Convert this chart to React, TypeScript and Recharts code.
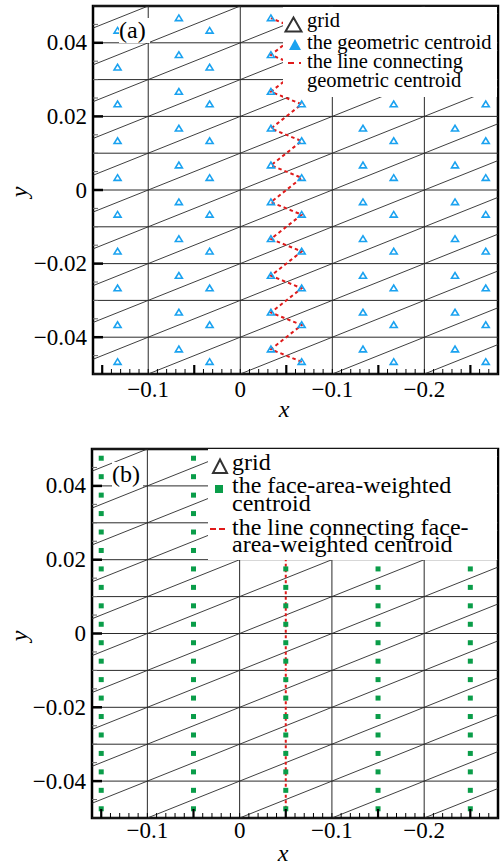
import React from "react";
import {
  ScatterChart, Scatter, XAxis, YAxis,
  ReferenceLine, ReferenceArea, Legend,
} from "recharts";

// ─── Palette / fonts ─────────────────────────────────────────────────────────

const FONT = "'Liberation Serif', 'Times New Roman', serif";
const BLUE = "#1aa2f0";
const GREEN = "#0a9d49";
const RED = "#e01a1a";
const MESH = "#2a2a2a";

// ─── Mesh nodes (both panels) ────────────────────────────────────────────────

const MESH_X = [-0.2, -0.1, 0, 0.1, 0.2, 0.3];
const MESH_Y = [-0.05, -0.04, -0.03, -0.02, -0.01, 0, 0.01, 0.02, 0.03, 0.04, 0.05];

const X_DOMAIN = [-0.16, 0.28];
const Y_DOMAIN = [-0.05, 0.05];

// ─── Axis ticks ──────────────────────────────────────────────────────────────

const X_TICKS = [
  -0.15, -0.14, -0.13, -0.12, -0.11, -0.1, -0.09, -0.08, -0.07, -0.06,
  -0.05, -0.04, -0.03, -0.02, -0.01, 0, 0.01, 0.02, 0.03, 0.04,
  0.05, 0.06, 0.07, 0.08, 0.09, 0.1, 0.11, 0.12, 0.13, 0.14,
  0.15, 0.16, 0.17, 0.18, 0.19, 0.2, 0.21, 0.22, 0.23, 0.24,
  0.25, 0.26, 0.27,
];
const X_MAJOR = [-0.15, -0.05, 0.05, 0.15, 0.25];
const X_LABEL_AT = [-0.1, 0, 0.1, 0.2];
const X_LABEL_TEXT = ["−0.1", "0", "−0.1", "−0.2"];

const Y_TICKS = [
  -0.045, -0.04, -0.035, -0.03, -0.025, -0.02, -0.015, -0.01, -0.005, 0,
  0.005, 0.01, 0.015, 0.02, 0.025, 0.03, 0.035, 0.04, 0.045,
];
const Y_MAJOR = [-0.04, -0.02, 0, 0.02, 0.04];
const Y_LABEL_TEXT = ["−0.04", "−0.02", "0", "0.02", "0.04"];

// ─── Panel (a): geometric centroids ──────────────────────────────────────────

const UPPER_X = [-0.0667, 0.0333, 0.1333, 0.2333];
const UPPER_Y = [-0.0433, -0.0333, -0.0233, -0.0133, -0.0033, 0.0067, 0.0167, 0.0267, 0.0367, 0.0467];
const LOWER_X = [-0.1333, -0.0333, 0.0667, 0.1667, 0.2667];
const LOWER_Y = [-0.0467, -0.0367, -0.0267, -0.0167, -0.0067, 0.0033, 0.0133, 0.0233, 0.0333, 0.0433];
const ZIG_X = [0.0667, 0.0333];

const LEGEND_A = ["grid", "the geometric centroid", "the line connecting", "geometric centroid"];

// ─── Panel (b): face-area-weighted centroids ─────────────────────────────────

const SQUARE_X = [-0.15, -0.05, 0.05, 0.15, 0.25];
const SQUARE_Y = [
  -0.0475, -0.0425, -0.0375, -0.0325, -0.0275, -0.0225, -0.0175, -0.0125, -0.0075, -0.0025,
  0.0025, 0.0075, 0.0125, 0.0175, 0.0225, 0.0275, 0.0325, 0.0375, 0.0425, 0.0475,
];
const LINE_B_X = 0.05;

const LEGEND_B = [
  "grid", "the face-area-weighted", "centroid",
  "the line connecting face-", "area-weighted centroid",
];

// tables for the series
const CENTROIDS_A = [
  ...UPPER_X.flatMap((x) => UPPER_Y.map((y) => ({ x, y }))),
  ...LOWER_X.flatMap((x) => LOWER_Y.map((y) => ({ x, y }))),
];
const ZIG_A = LOWER_Y.flatMap((y, i) => [{ x: ZIG_X[0], y }, { x: ZIG_X[1], y: UPPER_Y[i] }]);
const SQUARES_B = SQUARE_X.flatMap((x) => SQUARE_Y.map((y) => ({ x, y })));
const LINE_B = SQUARE_Y.map((y) => ({ x: LINE_B_X, y }));

const near = (a: number, b: number) => Math.abs(a - b) < 1e-9;

// ─── Marks ───────────────────────────────────────────────────────────────────

function TriangleMark(p: any) {
  const { cx, cy } = p;
  return (
    <polygon
      points={`${cx - 3.5},${cy + 2.5} ${cx + 3.5},${cy + 2.5} ${cx},${cy - 3.2}`}
      fill="none" stroke={BLUE} strokeWidth={1.6}
    />
  );
}

function SquareMark(p: any) {
  return <rect x={p.cx - 2.5} y={p.cy - 2.5} width={5} height={5} fill={GREEN} />;
}

const NoMark = () => <g />;

// ─── Ticks ───────────────────────────────────────────────────────────────────

function XTick({ x, y, payload, dy }: any) {
  const v = payload.value;
  const major = X_MAJOR.some((m) => near(m, v));
  const li = X_LABEL_AT.findIndex((m) => near(m, v));
  return (
    <g>
      <line x1={x} x2={x} y1={y} y2={y - (major ? 9 : 5)} stroke="#000" strokeWidth={major ? 2.2 : 1} />
      {li >= 0 && (
        <text x={x} y={y + dy} textAnchor="middle" fontSize={23} fontFamily={FONT} fill="#000">
          {X_LABEL_TEXT[li]}
        </text>
      )}
    </g>
  );
}

function YTick({ x, y, payload }: any) {
  const v = payload.value;
  const li = Y_MAJOR.findIndex((m) => near(m, v));
  const major = li >= 0;
  return (
    <g>
      <line x1={x} x2={x + (major ? 10 : 5)} y1={y} y2={y} stroke={major ? "#000" : "#666"} strokeWidth={major ? 2.5 : 1} />
      {major && (
        <text x={x - 6} y={y + 7.5} textAnchor="end" fontSize={23} fontFamily={FONT} fill="#000">
          {Y_LABEL_TEXT[li]}
        </text>
      )}
    </g>
  );
}

// ─── Shared pieces ───────────────────────────────────────────────────────────

function meshLines(prefix: string) {
  const out: React.ReactElement[] = [];
  MESH_X.forEach((x) => out.push(<ReferenceLine key={`${prefix}v${x}`} x={x} stroke={MESH} strokeWidth={1} />));
  MESH_Y.forEach((y) => out.push(<ReferenceLine key={`${prefix}h${y}`} y={y} stroke={MESH} strokeWidth={1} />));
  for (let i = 0; i < MESH_X.length - 1; i++) {
    for (let j = 0; j < MESH_Y.length - 1; j++) {
      out.push(
        <ReferenceLine
          key={`${prefix}d${i}-${j}`}
          segment={[{ x: MESH_X[i], y: MESH_Y[j] }, { x: MESH_X[i + 1], y: MESH_Y[j + 1] }]}
          ifOverflow="hidden" stroke={MESH} strokeWidth={0.9}
        />,
      );
    }
  }
  return out;
}

function axes(xHeight: number, yWidth: number, dy: number, xl: [number, number], yl: [number, number]) {
  return [
    <XAxis
      key="xa" type="number" dataKey="x" domain={X_DOMAIN} allowDataOverflow
      ticks={X_TICKS} interval={0} tickSize={0} tickMargin={0} axisLine={false} tickLine={false}
      height={xHeight} tick={(p: any) => <XTick {...p} dy={dy} />}
      label={() => (
        <text x={xl[0]} y={xl[1]} textAnchor="middle" fontSize={24} fontStyle="italic" fontFamily={FONT} fill="#000">x</text>
      )}
    />,
    <YAxis
      key="ya" type="number" dataKey="y" domain={Y_DOMAIN} allowDataOverflow
      ticks={Y_TICKS} interval={0} tickSize={0} tickMargin={0} axisLine={false} tickLine={false}
      width={yWidth} tick={(p: any) => <YTick {...p} />}
      label={() => (
        <text x={yl[0]} y={yl[1]} transform={`rotate(-90 ${yl[0]} ${yl[1]})`} textAnchor="middle" fontSize={24} fontStyle="italic" fontFamily={FONT} fill="#000">y</text>
      )}
    />,
  ];
}

const frame = (
  <ReferenceArea
    x1={X_DOMAIN[0]} x2={X_DOMAIN[1]} y1={Y_DOMAIN[0]} y2={Y_DOMAIN[1]}
    fill="none" stroke="#000" strokeWidth={2.5} ifOverflow="visible"
  />
);

const txt = { fontFamily: FONT, fill: "#000" } as const;

function LegendA() {
  return (
    <svg width={214} height={90} style={{ display: "block", background: "#fff", overflow: "visible" }}>
      <polygon points="2.5,24.5 18.5,24.5 10.5,10.5" fill="none" stroke="#333" strokeWidth={2} />
      <polygon points="6,43 18,43 12,32" fill={BLUE} />
      <line x1={5} x2={18} y1={56} y2={56} stroke={RED} strokeWidth={2} strokeDasharray="6 5" />
      {LEGEND_A.map((t, i) => (
        <text key={t} x={24} y={[20, 42, 61, 80][i]} fontSize={20.5} {...txt}>{t}</text>
      ))}
    </svg>
  );
}

function LegendB() {
  return (
    <svg width={289} height={111} style={{ display: "block", background: "#fff", overflow: "visible" }}>
      <polygon points="5,24 19,24 12,10.5" fill="none" stroke="#333" strokeWidth={2} />
      <rect x={7} y={36} width={8} height={8} fill={GREEN} />
      <line x1={2} x2={17} y1={80} y2={80} stroke={RED} strokeWidth={2} strokeDasharray="6 3" />
      {LEGEND_B.map((t, i) => (
        <text key={t} x={24} y={[21, 44, 62, 86, 103][i]} fontSize={24} {...txt}>{t}</text>
      ))}
    </svg>
  );
}

const tagStyle = (left: number, top: number): React.CSSProperties => ({
  position: "absolute", left, top, width: 31, height: 25, lineHeight: "25px",
  background: "#fff", fontFamily: FONT, fontSize: 24, color: "#000",
});

// ─── App ─────────────────────────────────────────────────────────────────────

export default function App() {
  return (
    <div style={{ position: "absolute", left: 0, top: 0, width: 500, height: 865, background: "#fff" }}>
      <div style={{ position: "absolute", left: 0, top: 0 }}>
        <ScatterChart width={500} height={430} margin={{ top: 6, right: 2, left: 0, bottom: 0 }}>
          {axes(56, 93, 23, [284, 417], [27, 192])}
          {meshLines("a")}
          <Scatter name="line" data={ZIG_A} shape={NoMark} line={{ stroke: RED, strokeWidth: 2, strokeDasharray: "3.5 3" }} isAnimationActive={false} />
          <Scatter name="centroid" data={CENTROIDS_A} shape={TriangleMark} isAnimationActive={false} />
          {frame}
          <Legend layout="vertical" align="center" verticalAlign="middle" content={() => <LegendA />}
            wrapperStyle={{ left: 283, top: 7, width: 214, height: 90 }} />
        </ScatterChart>
        <div style={tagStyle(119, 18)}>(a)</div>
      </div>

      <div style={{ position: "absolute", left: 0, top: 430 }}>
        <ScatterChart width={500} height={435} margin={{ top: 19, right: 2, left: 0, bottom: 0 }}>
          {axes(47, 92, 20, [283, 431], [27, 206])}
          {meshLines("b")}
          <Scatter name="line" data={LINE_B} shape={NoMark} line={{ stroke: RED, strokeWidth: 2, strokeDasharray: "3 2.5" }} isAnimationActive={false} />
          <Scatter name="centroid" data={SQUARES_B} shape={SquareMark} isAnimationActive={false} />
          {frame}
          <Legend layout="vertical" align="center" verticalAlign="middle" content={() => <LegendB />}
            wrapperStyle={{ left: 208, top: 19, width: 289, height: 111 }} />
        </ScatterChart>
        <div style={tagStyle(112, 32)}>(b)</div>
      </div>
    </div>
  );
}
